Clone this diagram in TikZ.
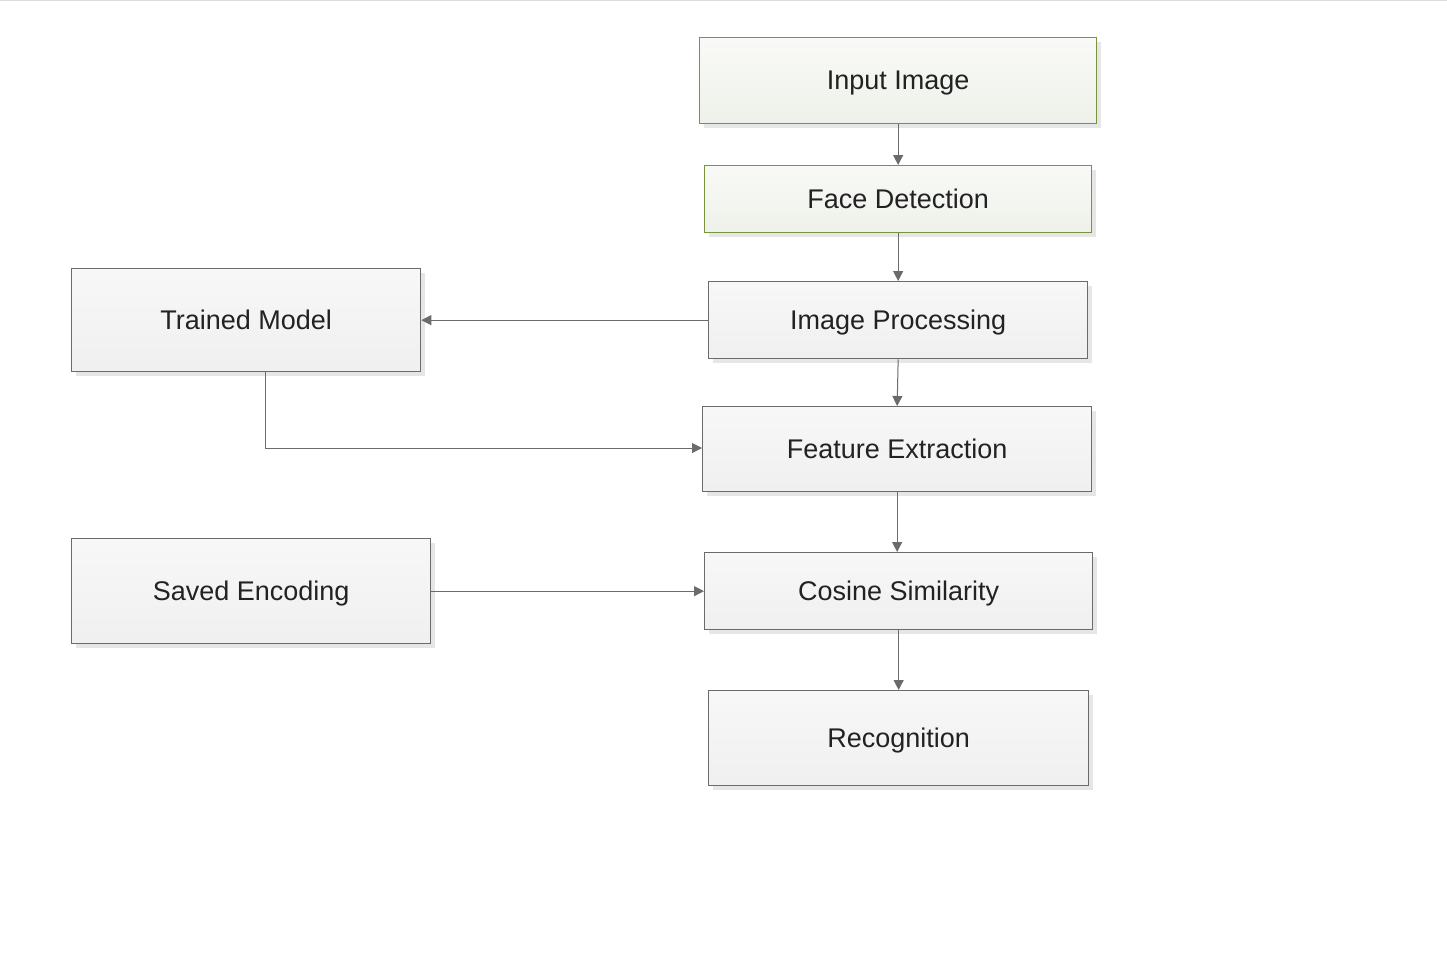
\documentclass[tikz,border=0pt]{standalone}
\usepackage{fontspec}
\setmainfont{Liberation Sans}
\usetikzlibrary{arrows.meta,shadows}
\definecolor{edgegray}{HTML}{6B6B6B}
\definecolor{boxgreen}{HTML}{77933C}
\definecolor{txt}{HTML}{222222}
\definecolor{shade}{HTML}{E6E6E6}
\tikzset{
  base/.style={draw, line width=1.3pt, anchor=north west, inner sep=0pt,
    font=\fontsize{27}{30}\selectfont, text=txt, text depth=0pt,
    drop shadow={shadow xshift=4pt, shadow yshift=-4pt, fill=shade, opacity=1}},
  graybox/.style={base, draw=edgegray, top color=white!97!black, bottom color=white!94!black},
  greenbox/.style={base, draw=boxgreen, top color={rgb,255:red,249;green,250;blue,247}, bottom color={rgb,255:red,238;green,241;blue,234}},
  conn/.style={draw=edgegray, line width=1pt, -{Triangle[length=10pt,width=10pt]}}
}
\begin{document}
\begin{tikzpicture}[x=1pt,y=-1pt]
\useasboundingbox (0,0) rectangle (1447,974);
\fill[white] (0,0) rectangle (1447,974);
\fill[white!86!black] (0,0) rectangle (1447,1.5);
\node[greenbox, minimum width=397pt, minimum height=86pt] (inp) at (699,37) {Input Image};
\node[greenbox, minimum width=387pt, minimum height=67pt] (face) at (704,165) {Face Detection};
\node[graybox, minimum width=349pt, minimum height=103pt] (train) at (71,268) {Trained Model};
\node[graybox, minimum width=379pt, minimum height=77pt] (proc) at (708,281) {Image Processing};
\node[graybox, minimum width=389pt, minimum height=85pt] (feat) at (702,406) {Feature Extraction};
\node[graybox, minimum width=359pt, minimum height=105pt] (saved) at (71,538) {Saved Encoding};
\node[graybox, minimum width=388pt, minimum height=77pt] (cos) at (704,552) {Cosine Similarity};
\node[graybox, minimum width=380pt, minimum height=95pt] (rec) at (708,690) {Recognition};
\coordinate (bend) at (265,448);
\draw[conn] (inp.south) -- (face.north);
\draw[conn] (face.south) -- (proc.north);
\draw[conn] (proc.west) -- (train.east);
\draw[conn] (proc.south) -- (feat.north);
\draw[conn] (train.south -| bend) -- (bend) -- (bend -| feat.west);
\draw[conn] (feat.south) -- (feat.south |- cos.north);
\draw[conn] (saved.east) -- (saved.east -| cos.west);
\draw[conn] (cos.south) -- (cos.south |- rec.north);
\end{tikzpicture}
\end{document}
